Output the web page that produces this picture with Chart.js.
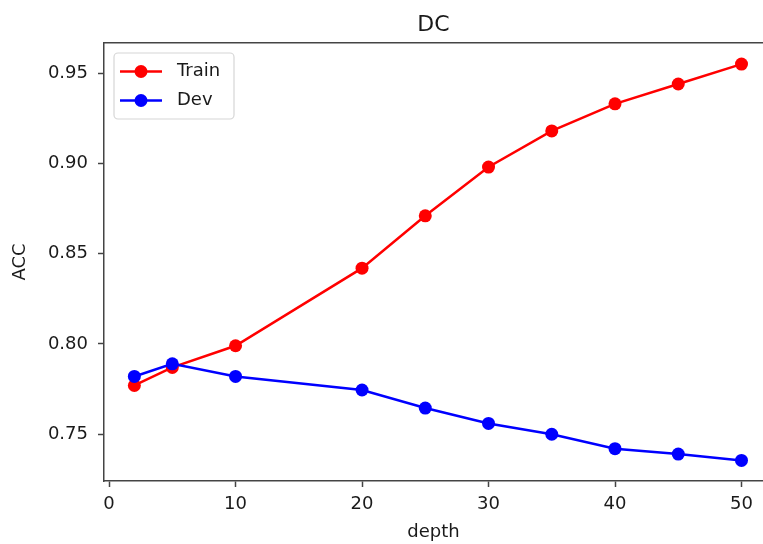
<!DOCTYPE html>
<html>
<head>
<meta charset="utf-8">
<script src="https://cdn.jsdelivr.net/npm/chart.js@4.4.0/dist/chart.umd.min.js"></script>
<style>
  html, body { margin: 0; padding: 0; background: #fff; }
  #wrap { width: 763px; height: 544px; }
</style>
</head>
<body>
<div id="wrap"><canvas id="accChart"></canvas></div>
<script>
// values
const depth = [2, 5, 10, 20, 25, 30, 35, 40, 45, 50];
const trainAcc = [0.777, 0.787, 0.799, 0.842, 0.871, 0.898, 0.918, 0.933, 0.944, 0.955];
const devAcc = [0.782, 0.789, 0.782, 0.7745, 0.7645, 0.756, 0.750, 0.742, 0.739, 0.7355];
const xTicks = [0, 10, 20, 30, 40, 50];
const yTicks = [0.75, 0.80, 0.85, 0.90, 0.95];

const FONT = 'DejaVu Sans';
const TEXT = '#1a1a1a';
const SPINE = '#444';

const toPoints = (ys) => ys.map((y, i) => ({ x: depth[i], y: y }));

// legend drawn inside the plot, like matplotlib's upper-left legend
const boxLegend = {
    id: 'boxLegend',
    afterDraw(chart) {
        const ctx = chart.ctx;
        const x0 = 114, y0 = 53, w = 120, h = 66, r = 4;
        ctx.save();
        ctx.fillStyle = 'rgba(255,255,255,0.8)';
        ctx.strokeStyle = '#d6d6d6';
        ctx.lineWidth = 1.2;
        ctx.beginPath();
        ctx.roundRect(x0, y0, w, h, r);
        ctx.fill();
        ctx.stroke();

        chart.data.datasets.forEach((ds, i) => {
            const cy = 71.5 + i * 29;
            ctx.strokeStyle = ds.borderColor;
            ctx.lineWidth = ds.borderWidth;
            ctx.beginPath();
            ctx.moveTo(120, cy);
            ctx.lineTo(162, cy);
            ctx.stroke();
            ctx.fillStyle = ds.pointBackgroundColor;
            ctx.beginPath();
            ctx.arc(141, cy, ds.pointRadius, 0, Math.PI * 2);
            ctx.fill();
            ctx.fillStyle = TEXT;
            ctx.font = '18px "' + FONT + '"';
            ctx.textAlign = 'left';
            ctx.textBaseline = 'middle';
            ctx.fillText(ds.label, 177, cy);
        });
        ctx.restore();
    }
};

const ctx = document.getElementById('accChart').getContext('2d');
new Chart(ctx, {
    type: 'line',
    data: {
        datasets: [
            {
                label: 'Train',
                data: toPoints(trainAcc),
                borderColor: '#ff0000',
                backgroundColor: '#ff0000',
                pointBackgroundColor: '#ff0000',
                pointBorderWidth: 0,
                pointRadius: 6.5,
                borderWidth: 2.5,
                tension: 0,
                order: 1
            },
            {
                label: 'Dev',
                data: toPoints(devAcc),
                borderColor: '#0000ff',
                backgroundColor: '#0000ff',
                pointBackgroundColor: '#0000ff',
                pointBorderWidth: 0,
                pointRadius: 6.5,
                borderWidth: 2.5,
                tension: 0,
                order: 0
            }
        ]
    },
    options: {
        responsive: true,
        maintainAspectRatio: false,
        animation: false,
        layout: { padding: 0, autoPadding: false },
        plugins: {
            legend: { display: false },
            tooltip: { enabled: false },
            title: { display: false }
        },
        scales: {
            x: {
                type: 'linear',
                position: 'bottom',
                min: -0.4,
                max: 51.7,
                afterBuildTicks(scale) {
                    scale.ticks = xTicks.map(v => ({ value: v }));
                },
                afterFit(scale) { scale.height = 63; },
                grid: {
                    drawOnChartArea: false,
                    drawTicks: true,
                    tickLength: 6,
                    tickWidth: 1.5,
                    color: SPINE
                },
                border: { display: true, color: SPINE, width: 1.5 },
                ticks: {
                    padding: 7,
                    color: TEXT,
                    font: { family: FONT, size: 18 },
                    maxRotation: 0
                },
                title: {
                    display: true,
                    text: 'depth',
                    color: TEXT,
                    font: { family: FONT, size: 18 },
                    padding: { top: 0, bottom: 1 }
                }
            },
            x2: {
                type: 'linear',
                position: 'top',
                min: -0.4,
                max: 51.7,
                afterFit(scale) { scale.height = 43; },
                grid: { drawOnChartArea: false, drawTicks: false },
                border: { display: true, color: SPINE, width: 1.5 },
                ticks: { display: false },
                title: {
                    display: true,
                    text: 'DC',
                    color: TEXT,
                    font: { family: FONT, size: 22 },
                    padding: { top: 12, bottom: 0 }
                }
            },
            y: {
                type: 'linear',
                min: 0.7241,
                max: 0.9667,
                afterBuildTicks(scale) {
                    scale.ticks = yTicks.map(v => ({ value: v }));
                },
                afterFit(scale) { scale.width = 104; },
                grid: {
                    drawOnChartArea: false,
                    drawTicks: true,
                    tickLength: 6,
                    tickWidth: 1.5,
                    color: SPINE
                },
                border: { display: true, color: SPINE, width: 1.5 },
                ticks: {
                    padding: 10,
                    color: TEXT,
                    font: { family: FONT, size: 18 },
                    callback: (v) => v.toFixed(2)
                },
                title: {
                    display: true,
                    text: 'ACC',
                    color: TEXT,
                    font: { family: FONT, size: 18 },
                    padding: { top: 10, bottom: 0 }
                }
            }
        }
    },
    plugins: [boxLegend]
});
</script>
</body>
</html>
